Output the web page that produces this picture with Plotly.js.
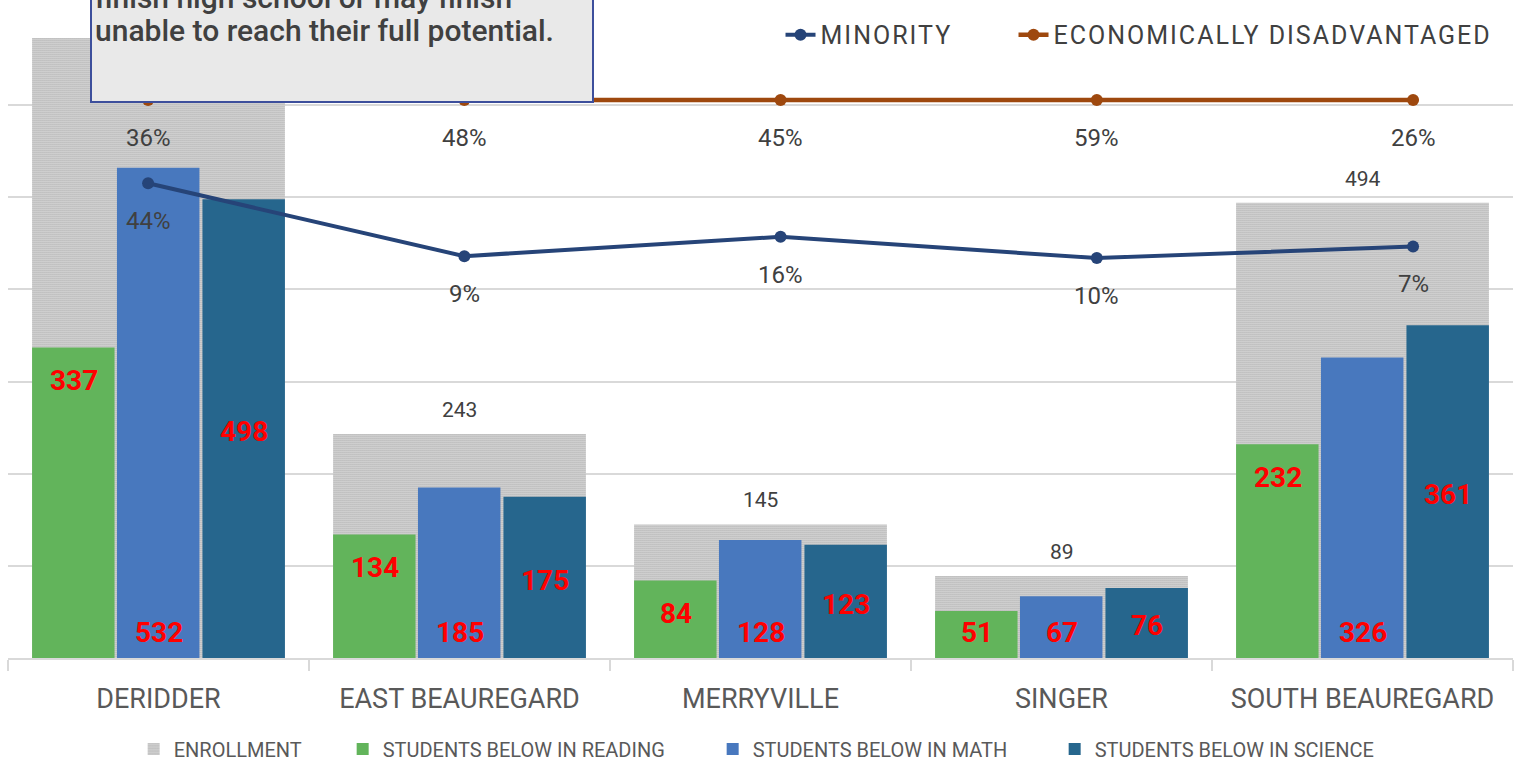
<!DOCTYPE html>
<html>
<head>
<meta charset="utf-8">
<script src="https://cdn.plot.ly/plotly-3.0.1.min.js"></script>
<style>
  html, body { margin: 0; padding: 0; background: #ffffff; }
  #chart { width: 1532px; height: 761px; }
  .legendtext { letter-spacing: 2px; }
  .legendtext[style*="font-size: 20px"] { letter-spacing: 0.8px; }
</style>
</head>
<body>
<div id="chart"></div>
<script>
// ---- data ----
const categories = ['DERIDDER', 'EAST BEAUREGARD', 'MERRYVILLE', 'SINGER', 'SOUTH BEAUREGARD'];
const enrollment = [673, 243, 145, 89, 494];
const belowReading = [337, 134, 84, 51, 232];
const belowMath = [532, 185, 128, 67, 326];
const belowScience = [498, 175, 123, 76, 361];
// line positions on the hidden secondary axis (0-100 scale)
const minorityLine = [73.6, 62.3, 65.3, 62.0, 63.8];
const econLine = [86.5, 86.5, 86.5, 86.5, 86.5];
// data labels shown for the lines
const minorityLabels = ['44%', '9%', '16%', '10%', '7%'];
const econLabels = ['36%', '48%', '45%', '59%', '26%'];
const boxLines = ['finish high school or may finish', 'unable to reach their full potential.'];

const FONT = 'Roboto, "Open Sans", Arial, sans-serif';
const C_READ = '#62b45b';
const C_MATH = '#4878be';
const C_SCI = '#26668d';
const C_MIN = '#264478';
const C_ECON = '#9e480e';

const traces = [
  {
    type: 'bar', name: 'ENROLLMENT', x: categories, y: enrollment,
    width: 0.84, offset: -0.42,
    marker: { color: '#ffffff', pattern: { shape: '.', size: 2, solidity: 0.6, fgcolor: '#959595', bgcolor: '#ffffff' }, line: { width: 0 } },
    legend: 'legend2', legendwidth: 164, hoverinfo: 'skip'
  },
  {
    type: 'bar', name: 'STUDENTS BELOW IN READING', x: categories, y: belowReading,
    width: 0.274, offset: -0.42,
    marker: { color: C_READ, line: { width: 0 } }, legend: 'legend2', legendwidth: 325
  },
  {
    type: 'bar', name: 'STUDENTS BELOW IN MATH', x: categories, y: belowMath,
    width: 0.274, offset: -0.138,
    marker: { color: C_MATH, line: { width: 0 } }, legend: 'legend2', legendwidth: 297
  },
  {
    type: 'bar', name: 'STUDENTS BELOW IN SCIENCE', x: categories, y: belowScience,
    width: 0.274, offset: 0.146,
    marker: { color: C_SCI, line: { width: 0 } }, legend: 'legend2', legendwidth: 300
  },
  {
    type: 'scatter', mode: 'lines+markers', name: 'MINORITY', x: categories, y: minorityLine,
    xaxis: 'x2', yaxis: 'y2',
    line: { color: C_MIN, width: 4 }, marker: { color: C_MIN, size: 12 }, legend: 'legend', legendwidth: 188
  },
  {
    type: 'scatter', mode: 'lines+markers', name: 'ECONOMICALLY DISADVANTAGED', x: categories, y: econLine,
    xaxis: 'x2', yaxis: 'y2',
    line: { color: C_ECON, width: 4.5 }, marker: { color: C_ECON, size: 12 }, legend: 'legend', legendwidth: 445
  }
];

const annotations = [];
// enrollment labels (the first one sits under the text box in the reference)
categories.forEach((c, i) => {
  if (i === 0) return;
  annotations.push({ xref: 'x', yref: 'y', x: c, y: enrollment[i], yshift: 24, text: String(enrollment[i]),
    showarrow: false, font: { family: FONT, size: 21, color: '#404040' } });
});
const redFont = { family: FONT, size: 28, color: '#ff0000', weight: 'bold' };
categories.forEach((c, i) => {
  annotations.push({ xref: 'x', yref: 'y', x: c, y: Math.max(belowReading[i], 64), yshift: -33, xshift: -85,
    text: String(belowReading[i]), showarrow: false, font: redFont });
  annotations.push({ xref: 'x', yref: 'y', x: c, y: 0, yshift: 26, xshift: 0,
    text: String(belowMath[i]), showarrow: false, font: redFont });
  annotations.push({ xref: 'x', yref: 'y', x: c, y: belowScience[i] / 2, yshift: -3, xshift: 85,
    text: String(belowScience[i]), showarrow: false, font: redFont });
});
// line labels
categories.forEach((c, i) => {
  annotations.push({ xref: 'x2', yref: 'y2', x: c, y: econLine[i], yshift: -38, text: econLabels[i],
    showarrow: false, font: { family: FONT, size: 24, color: '#404040' } });
  annotations.push({ xref: 'x2', yref: 'y2', x: c, y: minorityLine[i], yshift: -38, text: minorityLabels[i],
    showarrow: false, font: { family: FONT, size: 24, color: '#404040' } });
});
// text box (cut off at the top of the figure)
annotations.push({ xref: 'paper', yref: 'paper', x: 0.0545, y: 0.8605, xanchor: 'left', yanchor: 'bottom',
  width: 500, height: 160, text: ' ', showarrow: false, bgcolor: '#e9e9e9', bordercolor: '#3d4f9c',
  borderwidth: 2, borderpad: 0 });
boxLines.forEach((t, i) => {
  annotations.push({ xref: 'paper', yref: 'paper', x: 0.0567, y: [1.0235, 0.9721][i], xanchor: 'left', yanchor: 'middle',
    text: t, showarrow: false, font: { family: FONT, size: 30, color: '#404040', weight: 500 } });
});

const layout = {
  width: 1532, height: 761,
  margin: { l: 8, r: 19, t: 13, b: 103, autoexpand: false },
  paper_bgcolor: '#ffffff', plot_bgcolor: '#ffffff',
  barmode: 'overlay',
  showlegend: true,
  xaxis: {
    type: 'category', categoryorder: 'array', categoryarray: categories, range: [-0.5, 4.5],
    showline: true, linecolor: '#d9d9d9', linewidth: 2,
    ticks: 'outside', tickson: 'boundaries', ticklen: 11, tickcolor: '#d9d9d9', tickwidth: 2,
    tickfont: { family: FONT, size: 27, color: '#595959' }, ticklabelstandoff: 16,
    showgrid: false, zeroline: false, automargin: false
  },
  yaxis: {
    range: [0, 700], dtick: 100, showticklabels: false, showgrid: true, gridcolor: '#d9d9d9', gridwidth: 2,
    zeroline: false, showline: false, ticks: '', automargin: false
  },
  xaxis2: {
    type: 'category', categoryorder: 'array', categoryarray: categories, range: [-0.443, 4.316],
    overlaying: 'x', visible: false
  },
  yaxis2: { range: [0, 100], overlaying: 'y', visible: false },
  legend: {
    orientation: 'h', x: 0.5133, y: 0.966, xanchor: 'left', yanchor: 'middle',
    font: { family: FONT, size: 25, color: '#404040' }, bgcolor: 'rgba(0,0,0,0)', traceorder: 'normal'
  },
  legend2: {
    orientation: 'h', x: 0.0835, y: -0.141, xanchor: 'left', yanchor: 'middle',
    font: { family: FONT, size: 20, color: '#595959' }, bgcolor: 'rgba(0,0,0,0)', traceorder: 'normal'
  },
  annotations: annotations
};

Plotly.newPlot('chart', traces, layout, { displayModeBar: false, staticPlot: true });
</script>
</body>
</html>
